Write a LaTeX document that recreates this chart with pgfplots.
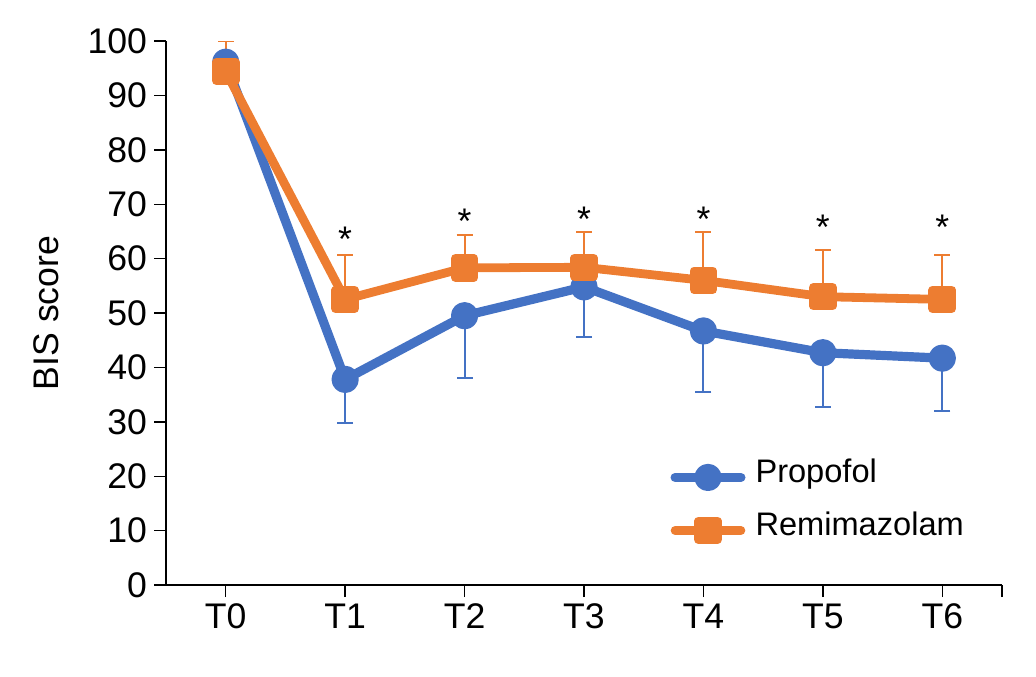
\documentclass[border=0pt]{standalone}
\usepackage{fontspec}
\setmainfont{Liberation Sans}
\usepackage{pgfplots}
\pgfplotsset{compat=1.18}

\definecolor{propblue}{HTML}{4472C4}
\definecolor{remiorange}{HTML}{ED7D31}
\newcommand{\chartfont}{\fontsize{17.8}{21}\selectfont}
\newcommand{\legfont}{\fontsize{16.3}{19.5}\selectfont}

\begin{document}
\begin{tikzpicture}
\begin{axis}[
  scale only axis,
  width=418pt, height=272pt,
  xmin=-0.5, xmax=6.5,
  ymin=0, ymax=100,
  axis x line*=bottom, axis y line*=left,
  axis line style={line width=0.7pt, black},
  xtick={0,1,2,3,4,5,6,6.5},
  xticklabels={T0,T1,T2,T3,T4,T5,T6,{}},
  ytick={0,10,...,100},
  tick align=outside,
  major tick length=6pt,
  tick style={line width=0.7pt, black},
  /pgf/number format/assume math mode=true,
  tick label style={font=\chartfont},
  ylabel={BIS score},
  ylabel style={font=\chartfont, at={(axis description cs:-0.143,0.5)}, anchor=center},
  legend style={draw=none, fill=none, font=\legfont,
    at={(0.603,0.149)}, anchor=west, inner sep=0pt,
    row sep=15pt, column sep=4pt,
    nodes={inner sep=1pt, text depth=0.2em, text height=0.75em},
    cells={anchor=west}},
  legend image code/.code={
    \draw[#1, line cap=round, mark repeat=2, mark phase=2]
      plot coordinates {(2.3pt,0pt) (18.75pt,0pt) (35.2pt,0pt)};
  },
]
% Propofol (mean, lower SD)
\addplot[color=propblue, line width=4.6pt, line join=round,
  mark=*, mark size=4.5pt, mark options={solid, draw=none, fill=propblue},
  error bars/y dir=minus, error bars/y explicit,
  error bars/error bar style={line width=1pt, propblue},
  error bars/error mark options={rotate=90, line width=1pt, mark size=4pt, propblue}]
  coordinates {
  (0,96.1) -= (0,3.4)
  (1,37.8) -= (0,8.1)
  (2,49.5) -= (0,11.5)
  (3,54.8) -= (0,9.2)
  (4,46.7) -= (0,11.2)
  (5,42.7) -= (0,9.9)
  (6,41.7) -= (0,9.8)
};
\addlegendentry{Propofol}
% Remimazolam (mean, upper SD)
\addplot[color=remiorange, line width=4.4pt, line join=round,
  mark=square*, mark size=4.7pt, mark options={solid, draw=none, fill=remiorange},
  error bars/y dir=plus, error bars/y explicit,
  error bars/error bar style={line width=1pt, remiorange},
  error bars/error mark options={rotate=90, line width=1pt, mark size=4pt, remiorange}]
  coordinates {
  (0,94.4) += (0,5.6)
  (1,52.5) += (0,8.2)
  (2,58.3) += (0,6.1)
  (3,58.4) += (0,6.4)
  (4,56.0) += (0,8.8)
  (5,53.0) += (0,8.5)
  (6,52.5) += (0,8.2)
};
\addlegendentry{Remimazolam}
% significance marks
\addplot[draw=none, forget plot, nodes near coords={*},
  every node near coord/.append style={anchor=center, font=\chartfont, inner sep=0pt}]
  coordinates {
  (1,63.6) (2,66.9) (3,67.3) (4,67.3) (5,65.7) (6,65.7)
};
\end{axis}
\path ([shift={(-83pt,-45.5pt)}]current axis.south west)
  rectangle ([shift={(435pt,292.5pt)}]current axis.south west);
\end{tikzpicture}
\end{document}
